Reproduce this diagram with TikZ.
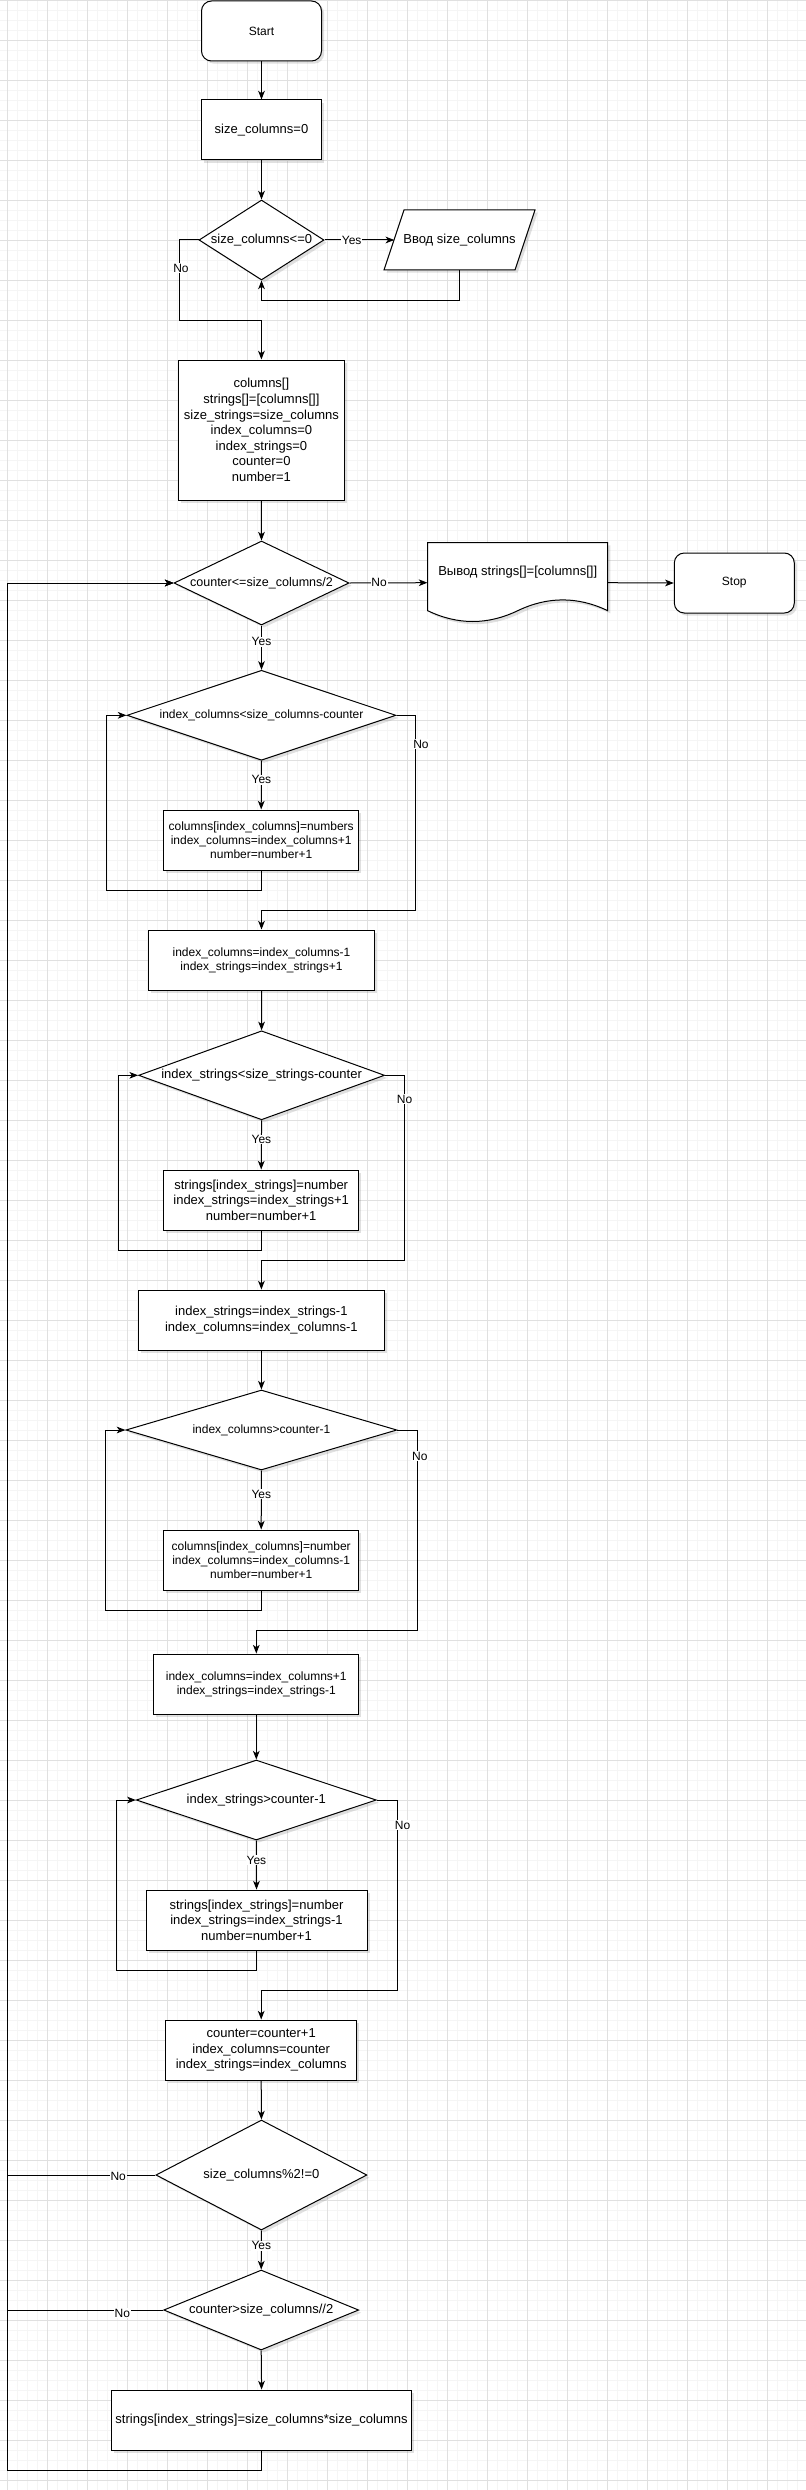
\documentclass[tikz,border=0pt]{standalone}
\usepackage{fontspec}
\setmainfont{Liberation Sans}
\usetikzlibrary{shapes.geometric,arrows.meta,shadows}
\newdimen\pxu \pxu=0.75pt
\newcommand{\ztxt}[1]{\makebox[0pt]{#1}}
\definecolor{gmaj}{RGB}{224,224,224}
\definecolor{gmin}{RGB}{245,245,245}
\begin{document}
\begin{tikzpicture}[x=0.75pt,y=-0.75pt,
  base/.style={draw=black, line width=0.75pt, fill=white, font=\fontsize{9.75}{11.7}\selectfont, inner sep=0pt, align=center,
    drop shadow={shadow xshift=2pt,shadow yshift=-2pt,opacity=0.2,fill=black!60}},
  small/.style={font=\fontsize{9}{10.6}\selectfont},
  proc/.style={base, rectangle, minimum height=60\pxu},
  term/.style={base, small, rectangle, rounded corners=7.5pt, minimum width=120\pxu, minimum height=60\pxu},
  dia/.style={base, diamond, aspect=1},
  arr/.style={line width=0.75pt, -{Stealth[length=6.5pt,width=5pt,inset=1.8pt]}},
  lbl/.style={fill=white, inner sep=0.6pt, font=\fontsize{9}{10.8}\selectfont},
  txt/.style={font=\fontsize{9.75}{11.7}\selectfont, inner sep=0pt},
  shapeless/.style={inner sep=0pt, draw=none, rectangle},
  shd/.style={fill=black!60, opacity=0.2, shift={(2.67,2.67)}},
  outl/.style={draw=black, line width=0.75pt, fill=white}
]
\useasboundingbox (0,0) rectangle (806,2490);
\fill[white] (0,0) rectangle (806,2490);
% grid
\foreach \i in {0,...,79} { \draw[gmin, line width=0.6pt] ({7.3+10*\i},0) -- ({7.3+10*\i},2490); }
\foreach \i in {0,...,249} { \draw[gmin, line width=0.6pt] (0,{10*\i}) -- (806,{10*\i}); }
\foreach \i in {0,...,19} { \draw[gmaj, line width=0.6pt] ({7.3+40*\i},0) -- ({7.3+40*\i},2490); }
\foreach \i in {0,...,62} { \draw[gmaj, line width=0.6pt] (0,{40*\i}) -- (806,{40*\i}); }

\coordinate (lft) at (7.7,0);
\coordinate (bot) at (7.7,2470);

% nodes
\node[term] (start) at (261.5,31) {Start};
\node[proc, minimum width=120\pxu] (b1) at (261.5,130) {size\_columns=0};
\node[dia, minimum width=125\pxu, minimum height=80\pxu] (d1) at (261.5,240) {\ztxt{size\_columns<=0}};

\fill[shd] (404,210) -- (535,210) -- (515,270) -- (384,270) -- cycle;
\draw[outl] (404,210) -- (535,210) -- (515,270) -- (384,270) -- cycle;
\node[shapeless, txt, minimum width=130\pxu, minimum height=60\pxu] (in1) at (459.5,240) {Ввод size\_columns};

\node[proc, minimum width=166\pxu, minimum height=140\pxu] (b2) at (261.4,430) {columns[]\\strings[]=[columns[]]\\size\_strings=size\_columns\\index\_columns=0\\index\_strings=0\\counter=0\\number=1};
\node[dia, font=\fontsize{9.4}{11.2}\selectfont, minimum width=175\pxu, minimum height=84\pxu] (d2) at (261.5,583) {\ztxt{counter<=size\_columns/2}};

\fill[shd] (427.7,542.7) -- (607.7,542.7) -- (607.7,610.7) .. controls (577.7,596.3) and (547.7,596.3) .. (517.7,610.7) .. controls (487.7,625.1) and (457.7,625.1) .. (427.7,610.7) -- cycle;
\draw[outl] (427.7,542.7) -- (607.7,542.7) -- (607.7,610.7) .. controls (577.7,596.3) and (547.7,596.3) .. (517.7,610.7) .. controls (487.7,625.1) and (457.7,625.1) .. (427.7,610.7) -- cycle;
\node[shapeless, minimum width=180\pxu, minimum height=80\pxu] (doc) at (517.7,582.7) {};
\node[txt] (doct) at (517.7,572.5) {Вывод strings[]=[columns[]]};

\node[term] (stop) at (734.3,583) {Stop};

\node[dia, small, minimum width=269\pxu, minimum height=90\pxu] (d3) at (261.5,715.3) {\ztxt{index\_columns<size\_columns-counter}};
\node[proc, small, minimum width=195\pxu] (b3) at (261.2,840) {columns[index\_columns]=numbers\\index\_columns=index\_columns+1\\number=number+1};
\node[proc, small, minimum width=226\pxu] (b4) at (261.5,960) {index\_columns=index\_columns-1\\index\_strings=index\_strings+1};
\node[dia, minimum width=246\pxu, minimum height=89\pxu] (d4) at (261.6,1075.3) {\ztxt{index\_strings<size\_strings-counter}};
\node[proc, minimum width=195\pxu] (b5) at (261.2,1200) {strings[index\_strings]=number\\index\_strings=index\_strings+1\\number=number+1};
\node[proc, minimum width=246\pxu] (b6) at (261.4,1320) {index\_strings=index\_strings-1\\index\_columns=index\_columns-1};
\node[dia, small, minimum width=271\pxu, minimum height=80\pxu] (d5) at (261.4,1430) {\ztxt{index\_columns>counter-1}};
\node[proc, small, minimum width=195\pxu] (b7) at (261.2,1560) {columns[index\_columns]=number\\index\_columns=index\_columns-1\\number=number+1};
\node[proc, small, minimum width=205\pxu] (b8) at (256.3,1684) {index\_columns=index\_columns+1\\index\_strings=index\_strings-1};
\node[dia, minimum width=240\pxu, minimum height=80\pxu] (d6) at (256.3,1800) {\ztxt{index\_strings>counter-1}};
\node[proc, minimum width=221\pxu] (b9) at (256.5,1920) {strings[index\_strings]=number\\index\_strings=index\_strings-1\\number=number+1};
\node[proc, minimum width=191\pxu] (b10) at (261.2,2050) {counter=counter+1\\index\_columns=counter\\index\_strings=index\_columns};
\node[dia, minimum width=211\pxu, minimum height=110\pxu] (d7) at (261.4,2175) {\ztxt{size\_columns\%2!=0}};
\node[dia, minimum width=195\pxu, minimum height=80\pxu] (d8) at (261.2,2310) {\ztxt{counter>size\_columns//2}};
\node[proc, minimum width=300\pxu] (b11) at (261.6,2420) {strings[index\_strings]=size\_columns*size\_columns};

% connectors
\draw[arr] (start.south) -- (b1.north);
\draw[arr] (b1.south) -- (d1.north);
\draw[arr] (d1.east) -- node[lbl,pos=0.39] (ly1) {Yes} (in1.west);
\draw[arr] (in1.south) -- ++(0,30) -| (d1.south);
\draw[arr] (d1.west) -| (179.4,320) -| (b2.north);
\node[lbl] (ln1) at (181,268) {No};
\draw[arr] (b2.south) -- (d2.north);
\draw[arr] (d2.east) -- node[lbl,pos=0.38] (ln2) {No} (doc.west);
\draw[arr] (doc.east) -- (stop.west);
\draw[arr] (d2.south) -- node[lbl,pos=0.37] (ly2) {Yes} (d3.north);
\draw[arr] (d3.south) -- node[lbl,pos=0.39] (ly3) {Yes} (b3.north);
\draw[arr] (b3.south) |- (106.4,890) |- (d3.west);
\draw[arr] (d3.east) -| (415,910) -| (b4.north);
\node[lbl] (ln3) at (421,744.3) {No};
\draw[arr] (b4.south) -- (d4.north);
\draw[arr] (d4.south) -- node[lbl,pos=0.39] (ly4) {Yes} (b5.north);
\draw[arr] (b5.south) |- (118.7,1250) |- (d4.west);
\draw[arr] (d4.east) -| (404.5,1260) -| (b6.north);
\node[lbl] (ln4) at (404.6,1099.3) {No};
\draw[arr] (b6.south) -- (d5.north);
\draw[arr] (d5.south) -- node[lbl,pos=0.4] (ly5) {Yes} (b7.north);
\draw[arr] (b7.south) |- (105.4,1610) |- (d5.west);
\draw[arr] (d5.east) -| (417,1630) -| (b8.north);
\node[lbl] (ln5) at (419.8,1456.4) {No};
\draw[arr] (b8.south) -- (d6.north);
\draw[arr] (d6.south) -- node[lbl,pos=0.4] (ly6) {Yes} (b9.north);
\draw[arr] (b9.south) |- (116.2,1970) |- (d6.west);
\draw[arr] (d6.east) -| (397.4,1990) -| (b10.north);
\node[lbl] (ln6) at (402.6,1825.4) {No};
\draw[arr] (b10.south) -- (d7.north);
\draw[arr] (d7.south) -- node[lbl,pos=0.39] (ly7) {Yes} (d8.north);
\draw[arr] (d8.south) -- (b11.north);
\draw[arr] (b11.south) |- (bot) |- (d2.west);
\draw[arr] (d7.west) -- (d7.west -| lft) |- (d2.west);
\draw[arr] (d8.west) -- (d8.west -| lft) |- (d2.west);
\node[lbl] (ln7) at (118.2,2176) {No};
\node[lbl] (ln8) at (122.3,2313) {No};
\end{tikzpicture}
\end{document}
